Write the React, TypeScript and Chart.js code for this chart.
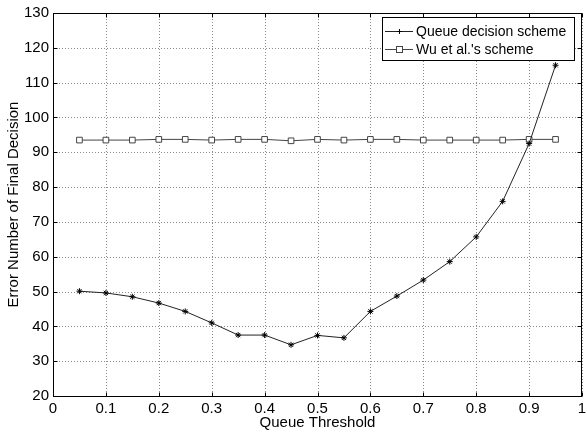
import React, { useEffect, useRef } from "react";
import { Chart, registerables } from "chart.js";

Chart.register(...registerables);

const thresholds = [0.05, 0.1, 0.15, 0.2, 0.25, 0.3, 0.35, 0.4, 0.45, 0.5, 0.55, 0.6, 0.65, 0.7, 0.75, 0.8, 0.85, 0.9, 0.95];
const queueScheme = [50.1, 49.6, 48.5, 46.7, 44.3, 41.0, 37.5, 37.5, 34.7, 37.4, 36.7, 44.3, 48.7, 53.3, 58.6, 65.7, 75.9, 92.5, 115.0];
const wuScheme = [93.5, 93.5, 93.5, 93.7, 93.7, 93.5, 93.7, 93.7, 93.3, 93.7, 93.5, 93.7, 93.7, 93.5, 93.5, 93.5, 93.5, 93.7, 93.7];
const xTicks = [0, 0.1, 0.2, 0.3, 0.4, 0.5, 0.6, 0.7, 0.8, 0.9, 1];
const xTickLabels = ["0", "0.1", "0.2", "0.3", "0.4", "0.5", "0.6", "0.7", "0.8", "0.9", "1"];
const yTicks = [20, 30, 40, 50, 60, 70, 80, 90, 100, 110, 120, 130];
const seriesNames = ["Queue decision scheme", "Wu et al.'s scheme"];

const FONT = "Arial, 'Liberation Sans', sans-serif";

const gridPlugin = {
  id: "dotgrid",
  beforeDatasetsDraw(chart: any) {
    const { ctx, chartArea: a, scales } = chart;
    ctx.save();
    ctx.strokeStyle = "#8a8a8a";
    ctx.lineWidth = 1;
    ctx.setLineDash([1, 2]);
    ctx.beginPath();
    for (const v of xTicks) {
      const x = Math.round(scales.x.getPixelForValue(v)) + 0.5;
      ctx.moveTo(x, a.top); ctx.lineTo(x, a.bottom);
    }
    for (const v of yTicks) {
      const y = Math.round(scales.y.getPixelForValue(v)) + 0.5;
      ctx.moveTo(a.left, y); ctx.lineTo(a.right, y);
    }
    ctx.stroke();
    ctx.restore();
  },
};

const frame = {
  id: "frame",
  afterDraw(chart: any) {
    const { ctx, chartArea: a, scales } = chart;
    ctx.save();
    ctx.strokeStyle = "#000";
    ctx.lineWidth = 1;
    const L = Math.round(a.left) + 0.5, T = Math.round(a.top) + 0.5;
    const R = Math.round(a.right) - 0.5, B = Math.round(a.bottom) + 0.5;
    ctx.strokeRect(L, T, R - L, B - T);
    ctx.beginPath();
    const tl = 4;
    for (const v of xTicks) {
      const x = Math.round(scales.x.getPixelForValue(v)) + 0.5;
      ctx.moveTo(x, B); ctx.lineTo(x, B - tl);
      ctx.moveTo(x, T); ctx.lineTo(x, T + tl);
    }
    for (const v of yTicks) {
      const y = Math.round(scales.y.getPixelForValue(v)) + 0.5;
      ctx.moveTo(L, y); ctx.lineTo(L + tl, y);
      ctx.moveTo(R, y); ctx.lineTo(R - tl, y);
    }
    ctx.stroke();

    // legend
    const lx = 382.5, ly = 17.5, lw = 192, lh = 43;
    ctx.fillStyle = "#fff";
    ctx.fillRect(lx, ly, lw, lh);
    ctx.strokeStyle = "#000";
    ctx.strokeRect(lx, ly, lw, lh);
    const rows = [31.5, 49.5];
    chart.data.datasets.forEach((ds: any, i: number) => {
      const y = rows[i];
      ctx.strokeStyle = ds.borderColor;
      ctx.lineWidth = 1;
      ctx.beginPath();
      ctx.moveTo(385, y); ctx.lineTo(413, y);
      ctx.stroke();
      if (i === 0) {
        ctx.strokeStyle = "#000";
        ctx.lineWidth = 1;
        ctx.beginPath();
        ctx.moveTo(399.5, y - 2.5); ctx.lineTo(399.5, y + 2.5);
        ctx.moveTo(397, y); ctx.lineTo(402, y);
        ctx.stroke();
      } else {
        ctx.fillStyle = "#fff";
        ctx.fillRect(396.5, y - 3, 6, 6);
        ctx.strokeStyle = "#444";
        ctx.lineWidth = 1;
        ctx.strokeRect(396.5, y - 3, 6, 6);
      }
      ctx.fillStyle = "#000";
      ctx.font = "14px " + FONT;
      ctx.textBaseline = "middle";
      ctx.textAlign = "left";
      ctx.fillText(ds.label, 416, y + 0.5);
    });
    ctx.restore();
  },
};

export default function App() {
  const ref = useRef<HTMLCanvasElement>(null);
  useEffect(() => {
    const chart = new Chart(ref.current!, {
      type: "line",
      data: {
        datasets: [
          {
            label: seriesNames[0],
            data: thresholds.map((x, i) => ({ x, y: queueScheme[i] })),
            borderColor: "#222",
            backgroundColor: "#000",
            borderWidth: 1,
            pointStyle: "star",
            pointRadius: 3,
            pointBorderWidth: 1,
            pointBorderColor: "#000",
            tension: 0,
          },
          {
            label: seriesNames[1],
            data: thresholds.map((x, i) => ({ x, y: wuScheme[i] })),
            borderColor: "#444",
            backgroundColor: "#fff",
            borderWidth: 1,
            pointStyle: "rect",
            pointRadius: 4,
            pointBorderWidth: 1,
            pointBorderColor: "#444",
            pointBackgroundColor: "#fff",
            tension: 0,
          },
        ],
      },
      options: {
        animation: false,
        responsive: false,
        maintainAspectRatio: false,
        layout: { padding: { top: 13, right: 1, left: 0, bottom: 0 } },
        plugins: { legend: { display: false }, tooltip: { enabled: false } },
        scales: {
          x: {
            type: "linear",
            min: 0,
            max: 1,
            afterBuildTicks: (s: any) => { s.ticks = xTicks.map((v) => ({ value: v })); },
            afterFit: (s: any) => { s.height = 39; s.paddingLeft = 0; s.paddingRight = 0; },
            ticks: {
              color: "#000",
              font: { size: 15, family: FONT },
              padding: 4,
              maxRotation: 0,
              autoSkip: false,
              callback: (_v: any, i: number) => xTickLabels[i],
            },
            grid: { display: false, drawTicks: false },
            border: { display: false },
            title: { display: true, text: "Queue Threshold", color: "#000", font: { size: 15, family: FONT }, padding: { top: 0, bottom: 3 } },
          },
          y: {
            type: "linear",
            min: 20,
            max: 130,
            afterBuildTicks: (s: any) => { s.ticks = yTicks.map((v) => ({ value: v })); },
            afterFit: (s: any) => { s.width = 53; s.paddingTop = 0; s.paddingBottom = 0; },
            ticks: { color: "#000", font: { size: 15, family: FONT }, padding: 4, autoSkip: false },
            grid: { display: false, drawTicks: false },
            border: { display: false },
            title: { display: true, text: "Error Number of Final Decision", color: "#000", font: { size: 15, family: FONT }, padding: { top: 5, bottom: 0 } },
          },
        },
      },
      plugins: [gridPlugin, frame],
    } as any);
    return () => chart.destroy();
  }, []);
  return (
    <div style={{ position: "fixed", left: 0, top: 0, width: 587, height: 435, background: "#fff" }}>
      <canvas ref={ref} width={587} height={435} style={{ width: 587, height: 435, display: "block" }} />
    </div>
  );
}
